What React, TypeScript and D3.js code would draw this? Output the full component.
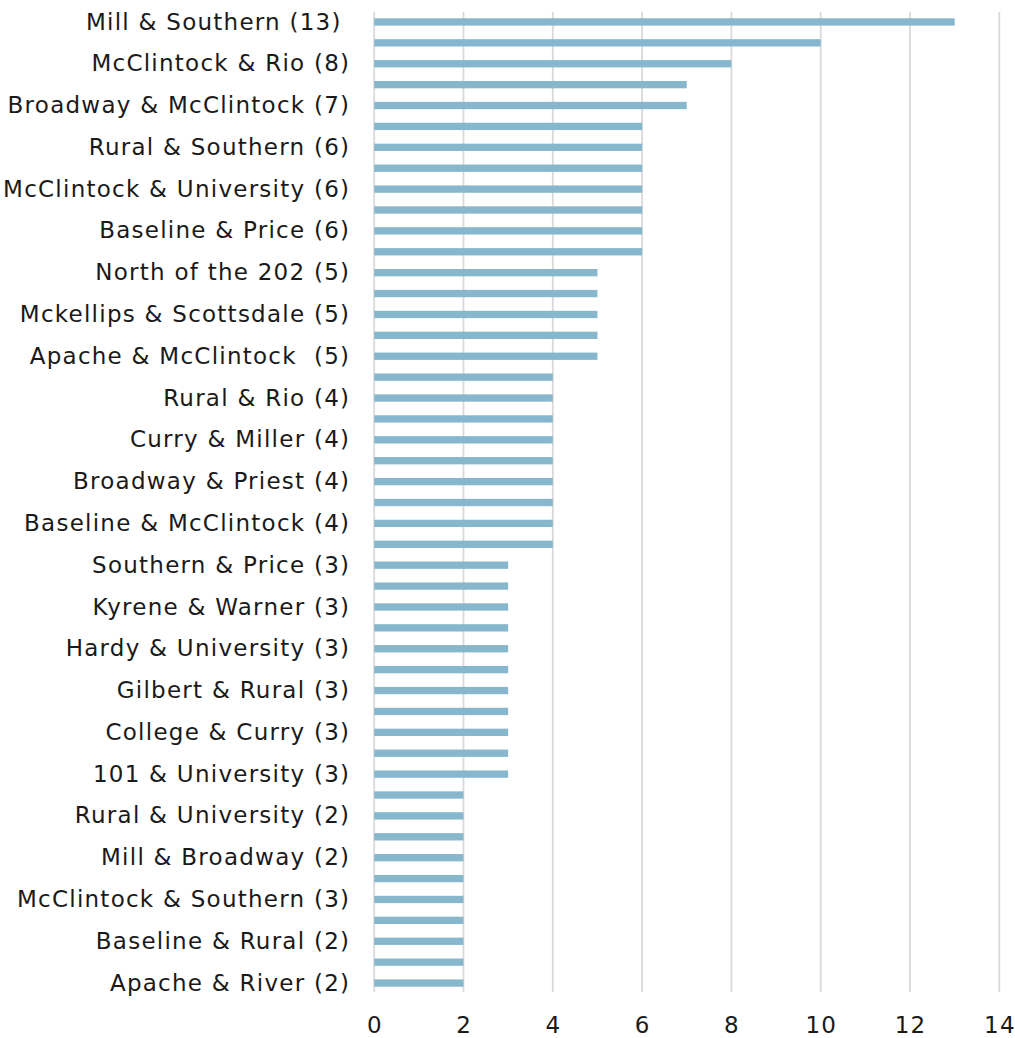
import React from "react";
import * as d3 from "d3";

const labels: string[] = [
  "Mill & Southern (13) ", "", "McClintock & Rio (8)", "", "Broadway & McClintock (7)", "",
  "Rural & Southern (6)", "", "McClintock & University (6)", "", "Baseline & Price (6)", "",
  "North of the 202 (5)", "", "Mckellips & Scottsdale (5)", "", "Apache & McClintock  (5)", "",
  "Rural & Rio (4)", "", "Curry & Miller (4)", "", "Broadway & Priest (4)", "",
  "Baseline & McClintock (4)", "", "Southern & Price (3)", "", "Kyrene & Warner (3)", "",
  "Hardy & University (3)", "", "Gilbert & Rural (3)", "", "College & Curry (3)", "",
  "101 & University (3)", "", "Rural & University (2)", "", "Mill & Broadway (2)", "",
  "McClintock & Southern (3)", "", "Baseline & Rural (2)", "", "Apache & River (2)",
];

const values: number[] = [
  13, 10, 8, 7, 7, 6, 6, 6, 6, 6, 6, 6, 5, 5, 5, 5, 5, 4, 4, 4, 4, 4, 4, 4, 4, 4,
  3, 3, 3, 3, 3, 3, 3, 3, 3, 3, 3, 2, 2, 2, 2, 2, 2, 2, 2, 2, 2,
];

const xTicks: number[] = [0, 2, 4, 6, 8, 10, 12, 14];

const W = 1015;
const H = 1038;
const left = 374.2;
const right = 999.3;
const top = 11.5;
const bottom = 993.5;

export default function App() {
  const x = d3.scaleLinear().domain([0, 14]).range([left, right]);
  const y = d3
    .scaleBand<number>()
    .domain(values.map((_, i) => i))
    .range([top, bottom])
    .paddingInner(0.65)
    .paddingOuter(0.325);
  const font = "'DejaVu Sans', sans-serif";
  const ls = 1.25;
  return (
    <svg
      width={W}
      height={H}
      style={{ position: "absolute", left: 0, top: 0, background: "#fff" }}
    >
      {xTicks.map((t) => (
        <line
          key={"g" + t}
          x1={x(t)}
          x2={x(t)}
          y1={12}
          y2={992}
          stroke="#d9d9d9"
          strokeWidth={1.8}
        />
      ))}
      {values.map((v, i) => (
        <rect
          key={"b" + i}
          x={x(0)}
          y={y(i)!}
          width={x(v) - x(0)}
          height={y.bandwidth()}
          fill="#86b7cc"
        />
      ))}
      {labels.map((l, i) =>
        l ? (
          <text
            key={"l" + i}
            x={349 + ls}
            y={y(i)! + y.bandwidth() / 2}
            dy="0.33em"
            textAnchor="end"
            fontFamily={font}
            fontSize={23}
            letterSpacing={ls}
            fill="#1a1a1a"
            style={{ whiteSpace: "pre" }}
          >
            {l}
          </text>
        ) : null
      )}
      {xTicks.map((t) => (
        <text
          key={"t" + t}
          x={x(t) + ls / 2}
          y={1025}
          dy="0.35em"
          textAnchor="middle"
          fontFamily={font}
          fontSize={23}
          letterSpacing={ls}
          fill="#1a1a1a"
        >
          {t}
        </text>
      ))}
    </svg>
  );
}
